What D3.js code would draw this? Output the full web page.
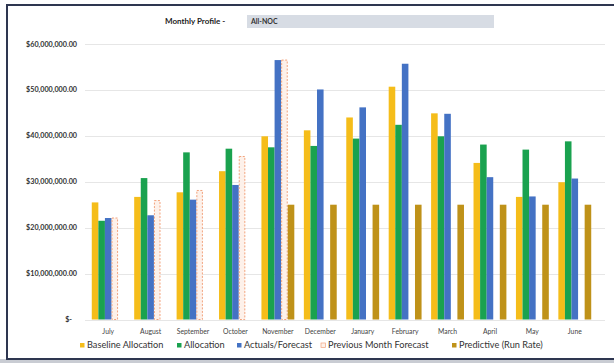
<!DOCTYPE html>
<html>
<head>
<meta charset="utf-8">
<script src="https://cdn.jsdelivr.net/npm/d3@7"></script>
<style>
  body { margin: 0; background: #fff; }
  svg { display: block; font-family: Lato, "Open Sans", sans-serif; }
</style>
</head>
<body>
<div id="chart"></div>
<script>
// chart data, in millions of dollars
const months = ["July", "August", "September", "October", "November", "December",
  "January", "February", "March", "April", "May", "June"];
const baseline = [25.5, 26.7, 27.7, 32.3, 39.9, 41.2, 44.0, 50.7, 44.9, 34.1, 26.7, 29.9];
const allocation = [21.5, 30.8, 36.4, 37.2, 37.5, 37.8, 39.4, 42.4, 39.9, 38.1, 37.0, 38.8];
const actuals = [22.1, 22.7, 26.1, 29.3, 56.5, 50.1, 46.2, 55.7, 44.8, 31.0, 26.8, 30.7];
const prevForecast = [22.1, 25.9, 28.1, 35.5, 56.5, null, null, null, null, null, null, null];
const predictive = [null, null, null, null, 25.0, 25.0, 25.0, 25.0, 25.0, 25.0, 25.0, 25.0];
const yTicks = [0, 10, 20, 30, 40, 50, 60];

const series = [
  { name: "Baseline Allocation", values: baseline, color: "#f5bd1a" },
  { name: "Allocation", values: allocation, color: "#1aa24f" },
  { name: "Actuals/Forecast", values: actuals, color: "#4472c4" },
  { name: "Previous Month Forecast", values: prevForecast, color: "#fdf1ea", stroke: "#f2a37d" },
  { name: "Predictive (Run Rate)", values: predictive, color: "#bf9219" }
];

const width = 614, height = 363;
const margin = { top: 44, right: 5, bottom: 43, left: 87 };

const svg = d3.select("#chart").append("svg")
  .attr("width", width)
  .attr("height", height);

// frame
svg.append("rect").attr("x", 0).attr("y", 359).attr("width", width).attr("height", 4).attr("fill", "#c9ccd3");
svg.append("path")
  .attr("d", `M${width + 2},5 H7 V359 H${width + 2}`)
  .attr("fill", "none").attr("stroke", "#2e3650").attr("stroke-width", 2);

// header
svg.append("text").attr("x", 165).attr("y", 24)
  .attr("font-size", 8).attr("font-weight", "bold").attr("fill", "#222")
  .text("Monthly Profile -");
svg.append("rect").attr("x", 247).attr("y", 15).attr("width", 247).attr("height", 13).attr("fill", "#d7dce4");
svg.append("text").attr("x", 251).attr("y", 24)
  .attr("font-size", 7).attr("font-weight", "bold").attr("fill", "#333")
  .text("All-NOC");

// scales
const x0 = d3.scaleBand()
  .domain(months)
  .range([margin.left, width - margin.right - 13])
  .paddingInner(0.225)
  .paddingOuter(0.1125);

const x1 = d3.scaleBand()
  .domain(series.map(s => s.name))
  .range([0, x0.bandwidth()]);

const y = d3.scaleLinear()
  .domain([0, 60])
  .range([height - margin.bottom - 0.5, margin.top]);

// gridlines
svg.append("g")
  .selectAll("line")
  .data(yTicks)
  .join("line")
  .attr("x1", margin.left - 2)
  .attr("x2", width - margin.right - 4)
  .attr("y1", d => Math.round(y(d)) + 0.5)
  .attr("y2", d => Math.round(y(d)) + 0.5)
  .attr("stroke", "#e6e6e6");

// y labels
svg.append("g")
  .selectAll("text")
  .data(yTicks)
  .join("text")
  .attr("x", d => d === 0 ? 72 : 77)
  .attr("y", d => y(d) + 2.5)
  .attr("text-anchor", "end")
  .attr("font-size", 7.2)
  .attr("font-weight", "bold")
  .attr("fill", "#333")
  .text(d => d === 0 ? "$-" : "$" + d3.format(",.2f")(d * 1e6));

// bars
const groups = svg.append("g")
  .selectAll("g")
  .data(series)
  .join("g");

groups.selectAll("rect")
  .data(s => s.values.map((v, i) => ({ s, v, m: months[i] })).filter(d => d.v != null))
  .join("rect")
  .attr("x", d => x0(d.m) + x1(d.s.name) + (d.s.stroke ? 0.5 : 0))
  .attr("y", d => y(d.v))
  .attr("width", d => x1.bandwidth() - (d.s.stroke ? 1 : 0))
  .attr("height", d => y(0) - y(d.v))
  .attr("fill", d => d.s.color)
  .attr("stroke", d => d.s.stroke || "none")
  .attr("stroke-width", 1)
  .attr("stroke-dasharray", "2,1.5");

// month labels
svg.append("g")
  .selectAll("text")
  .data(months)
  .join("text")
  .attr("x", d => x0(d) + x0.bandwidth() / 2)
  .attr("y", 334)
  .attr("text-anchor", "middle")
  .attr("font-size", 6.8)
  .attr("fill", "#444")
  .text(d => d);

// legend
const legendX = [80, 177, 237, 321, 452];
const legend = svg.append("g")
  .selectAll("g")
  .data(series)
  .join("g")
  .attr("transform", (d, i) => `translate(${legendX[i]},347)`);

legend.append("rect")
  .attr("x", 0).attr("y", -4)
  .attr("width", 4.5).attr("height", 4.5)
  .attr("fill", d => d.color)
  .attr("stroke", d => d.stroke || "none")
  .attr("stroke-width", 0.7);

legend.append("text")
  .attr("x", 7).attr("y", 1)
  .attr("font-size", 9.2)
  .attr("fill", "#333")
  .text(d => d.name);
</script>
</body>
</html>
